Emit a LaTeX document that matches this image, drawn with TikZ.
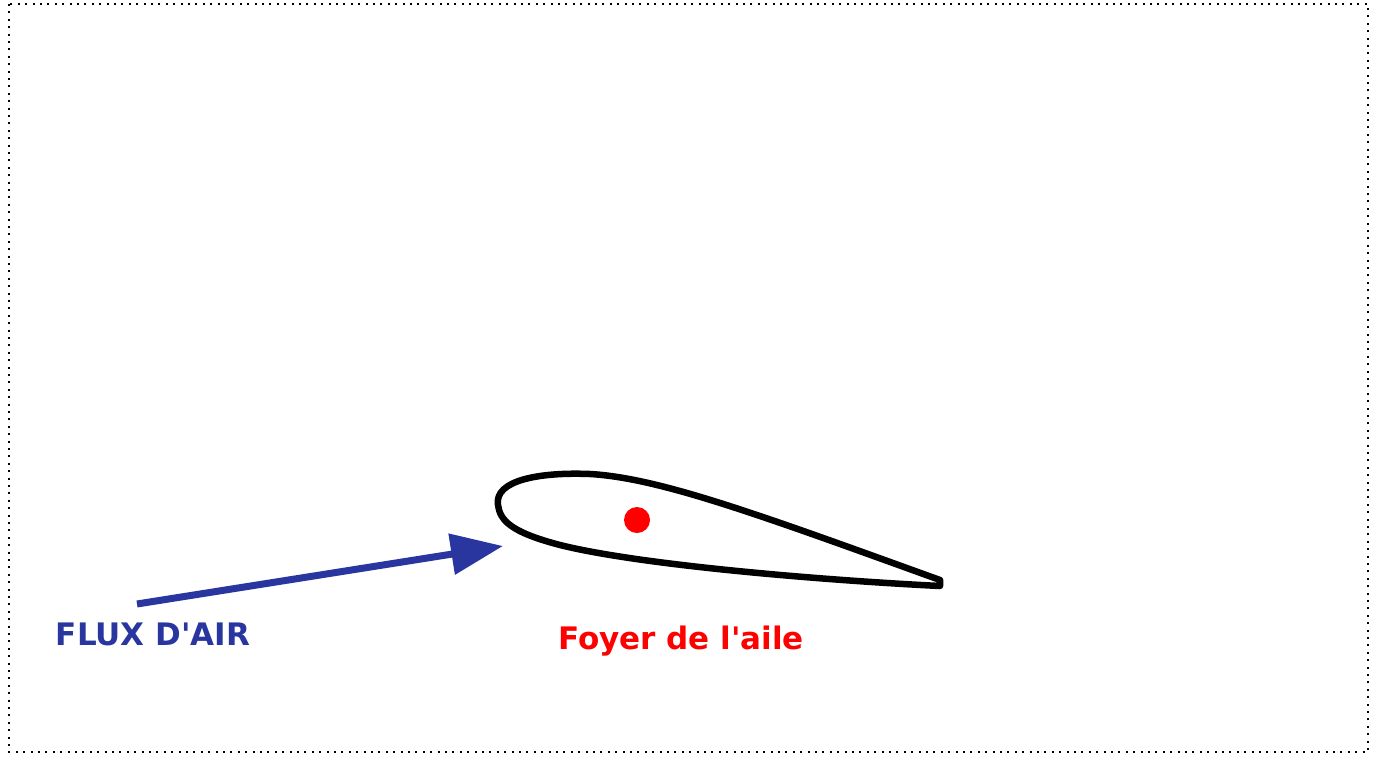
\documentclass[tikz,border=0pt]{standalone}
\usepackage{fontspec}
\setmainfont{DejaVu Sans}
\usetikzlibrary{arrows.meta}

\definecolor{fluxblue}{RGB}{42,54,160}

\begin{document}
\begin{tikzpicture}[x=1pt,y=-1pt,
    frame/.style={draw,line width=2pt,dash pattern=on 2pt off 5.4pt},
    profile/.style={draw,line width=6.5pt,line join=round},
    flux/.style={fluxblue,line width=7pt,-{Triangle[length=52pt,width=40pt]}},
    label/.style={font=\bfseries\fontsize{31}{35}\selectfont}]

  \useasboundingbox (0,0) rectangle (1378,758);
  \path[frame] (9,4) rectangle (1368,752);

  % wing section
  \path[profile] (498,505) .. controls (494,480) and (540,472) .. (590,474)
        .. controls (660,478) and (760,515) .. (940,580) -- (940,586)
        .. controls (820,580) and (640,565) .. (560,545)
        .. controls (510,532) and (500,520) .. cycle;

  \node[circle,fill=red,inner sep=0pt,minimum size=26pt] (foyer) at (637,520) {};
  \node[label,text=red] (foyerlbl) at (681,641) {Foyer de l\textquotesingle aile};

  \coordinate (tail) at (137,604);
  \coordinate (tip) at (503,546);
  \draw[flux] (tail) -- (tip);
  \node[label,text=fluxblue] (fluxlbl) at (153,634) {FLUX D\textquotesingle AIR};

\end{tikzpicture}
\end{document}
